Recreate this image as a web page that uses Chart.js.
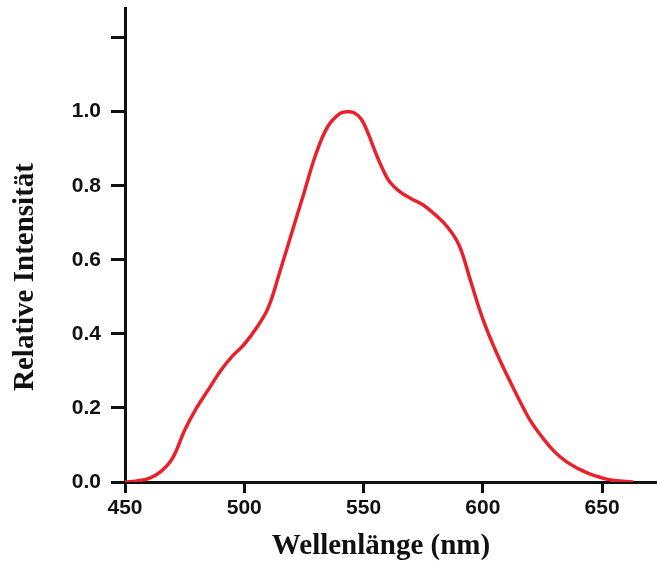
<!DOCTYPE html>
<html>
<head>
<meta charset="utf-8">
<script src="https://cdn.jsdelivr.net/npm/chart.js@4"></script>
<style>
  html, body { margin: 0; padding: 0; background: #fff; }
  #wrap { width: 657px; height: 566px; position: relative; }
</style>
</head>
<body>
<div id="wrap"><canvas id="chart"></canvas></div>
<script>
// spectrum
const wavelengths = [450, 455, 460, 465, 470, 475, 480, 485, 490, 495, 500, 505, 510, 515, 520, 525, 530, 535, 540, 543, 546, 549, 552, 555, 558, 561, 565, 570, 575, 580, 585, 590, 595, 600, 605, 610, 615, 620, 625, 630, 635, 640, 645, 650, 655, 663];
const intensity = [0.0, 0.003, 0.01, 0.028, 0.065, 0.14, 0.2, 0.25, 0.3, 0.34, 0.372, 0.415, 0.47, 0.57, 0.675, 0.78, 0.885, 0.96, 0.995, 1.0, 0.997, 0.98, 0.94, 0.89, 0.845, 0.81, 0.785, 0.765, 0.748, 0.722, 0.69, 0.64, 0.54, 0.44, 0.36, 0.29, 0.225, 0.165, 0.12, 0.082, 0.055, 0.036, 0.021, 0.011, 0.004, 0.0];
const xTicks = [450, 500, 550, 600, 650];
const yTicks = [0, 0.2, 0.4, 0.6, 0.8, 1.0, 1.2];
const xTitle = 'Wellenlänge (nm)';
const yTitle = 'Relative Intensität';

const axisColor = '#111';
const tickFont = { family: 'Liberation Sans', size: 21, weight: 'bold' };
const titleFont = 'bold 29px "Liberation Serif"';

// axis titles sit a bit off-centre in the original, so draw them by hand
const axisTitles = {
  id: 'axisTitles',
  afterDraw(chart) {
    const { ctx, chartArea } = chart;
    ctx.save();
    ctx.fillStyle = '#111';
    ctx.font = titleFont;
    ctx.textAlign = 'center';
    ctx.textBaseline = 'middle';
    ctx.fillText(xTitle, (chartArea.left + chartArea.right) / 2 - 10, chartArea.bottom + 65);
    ctx.translate(26, (chartArea.top + chartArea.bottom) / 2 + 32);
    ctx.rotate(-Math.PI / 2);
    ctx.fillText(yTitle, 0, 0);
    ctx.restore();
  },
};

const ctx = document.getElementById('chart').getContext('2d');

new Chart(ctx, {
  type: 'line',
  data: {
    datasets: [
      {
        data: wavelengths.map((x, i) => ({ x, y: intensity[i] })),
        borderColor: '#e8212c',
        borderWidth: 3.5,
        pointRadius: 0,
        fill: false,
        tension: 0.4,
      },
    ],
  },
  options: {
    responsive: true,
    maintainAspectRatio: false,
    animation: false,
    layout: { padding: { top: 8, right: 0, left: 0, bottom: 0 } },
    plugins: { legend: { display: false }, tooltip: { enabled: false } },
    scales: {
      x: {
        type: 'linear',
        min: 450,
        max: 673,
        afterBuildTicks: (scale) => {
          scale.ticks = xTicks.map((value) => ({ value }));
        },
        afterFit: (scale) => {
          scale.height = 84;
          scale.paddingLeft = 0;
          scale.paddingRight = 0;
        },
        border: { color: axisColor, width: 3 },
        grid: { drawOnChartArea: false, color: axisColor, lineWidth: 3, tickLength: 11 },
        ticks: { color: '#111', font: tickFont, padding: 3, maxRotation: 0 },
      },
      y: {
        min: 0,
        max: 1.28,
        afterBuildTicks: (scale) => {
          scale.ticks = yTicks.map((value) => ({ value }));
        },
        afterFit: (scale) => {
          scale.width = 125;
          scale.paddingTop = 0;
          scale.paddingBottom = 0;
        },
        border: { color: axisColor, width: 3 },
        grid: { drawOnChartArea: false, color: axisColor, lineWidth: 3, tickLength: 14 },
        ticks: {
          color: '#111',
          font: tickFont,
          padding: 10,
          callback: (value) => (value > 1.1 ? '' : value.toFixed(1)),
        },
      },
    },
  },
  plugins: [axisTitles],
});
</script>
</body>
</html>
